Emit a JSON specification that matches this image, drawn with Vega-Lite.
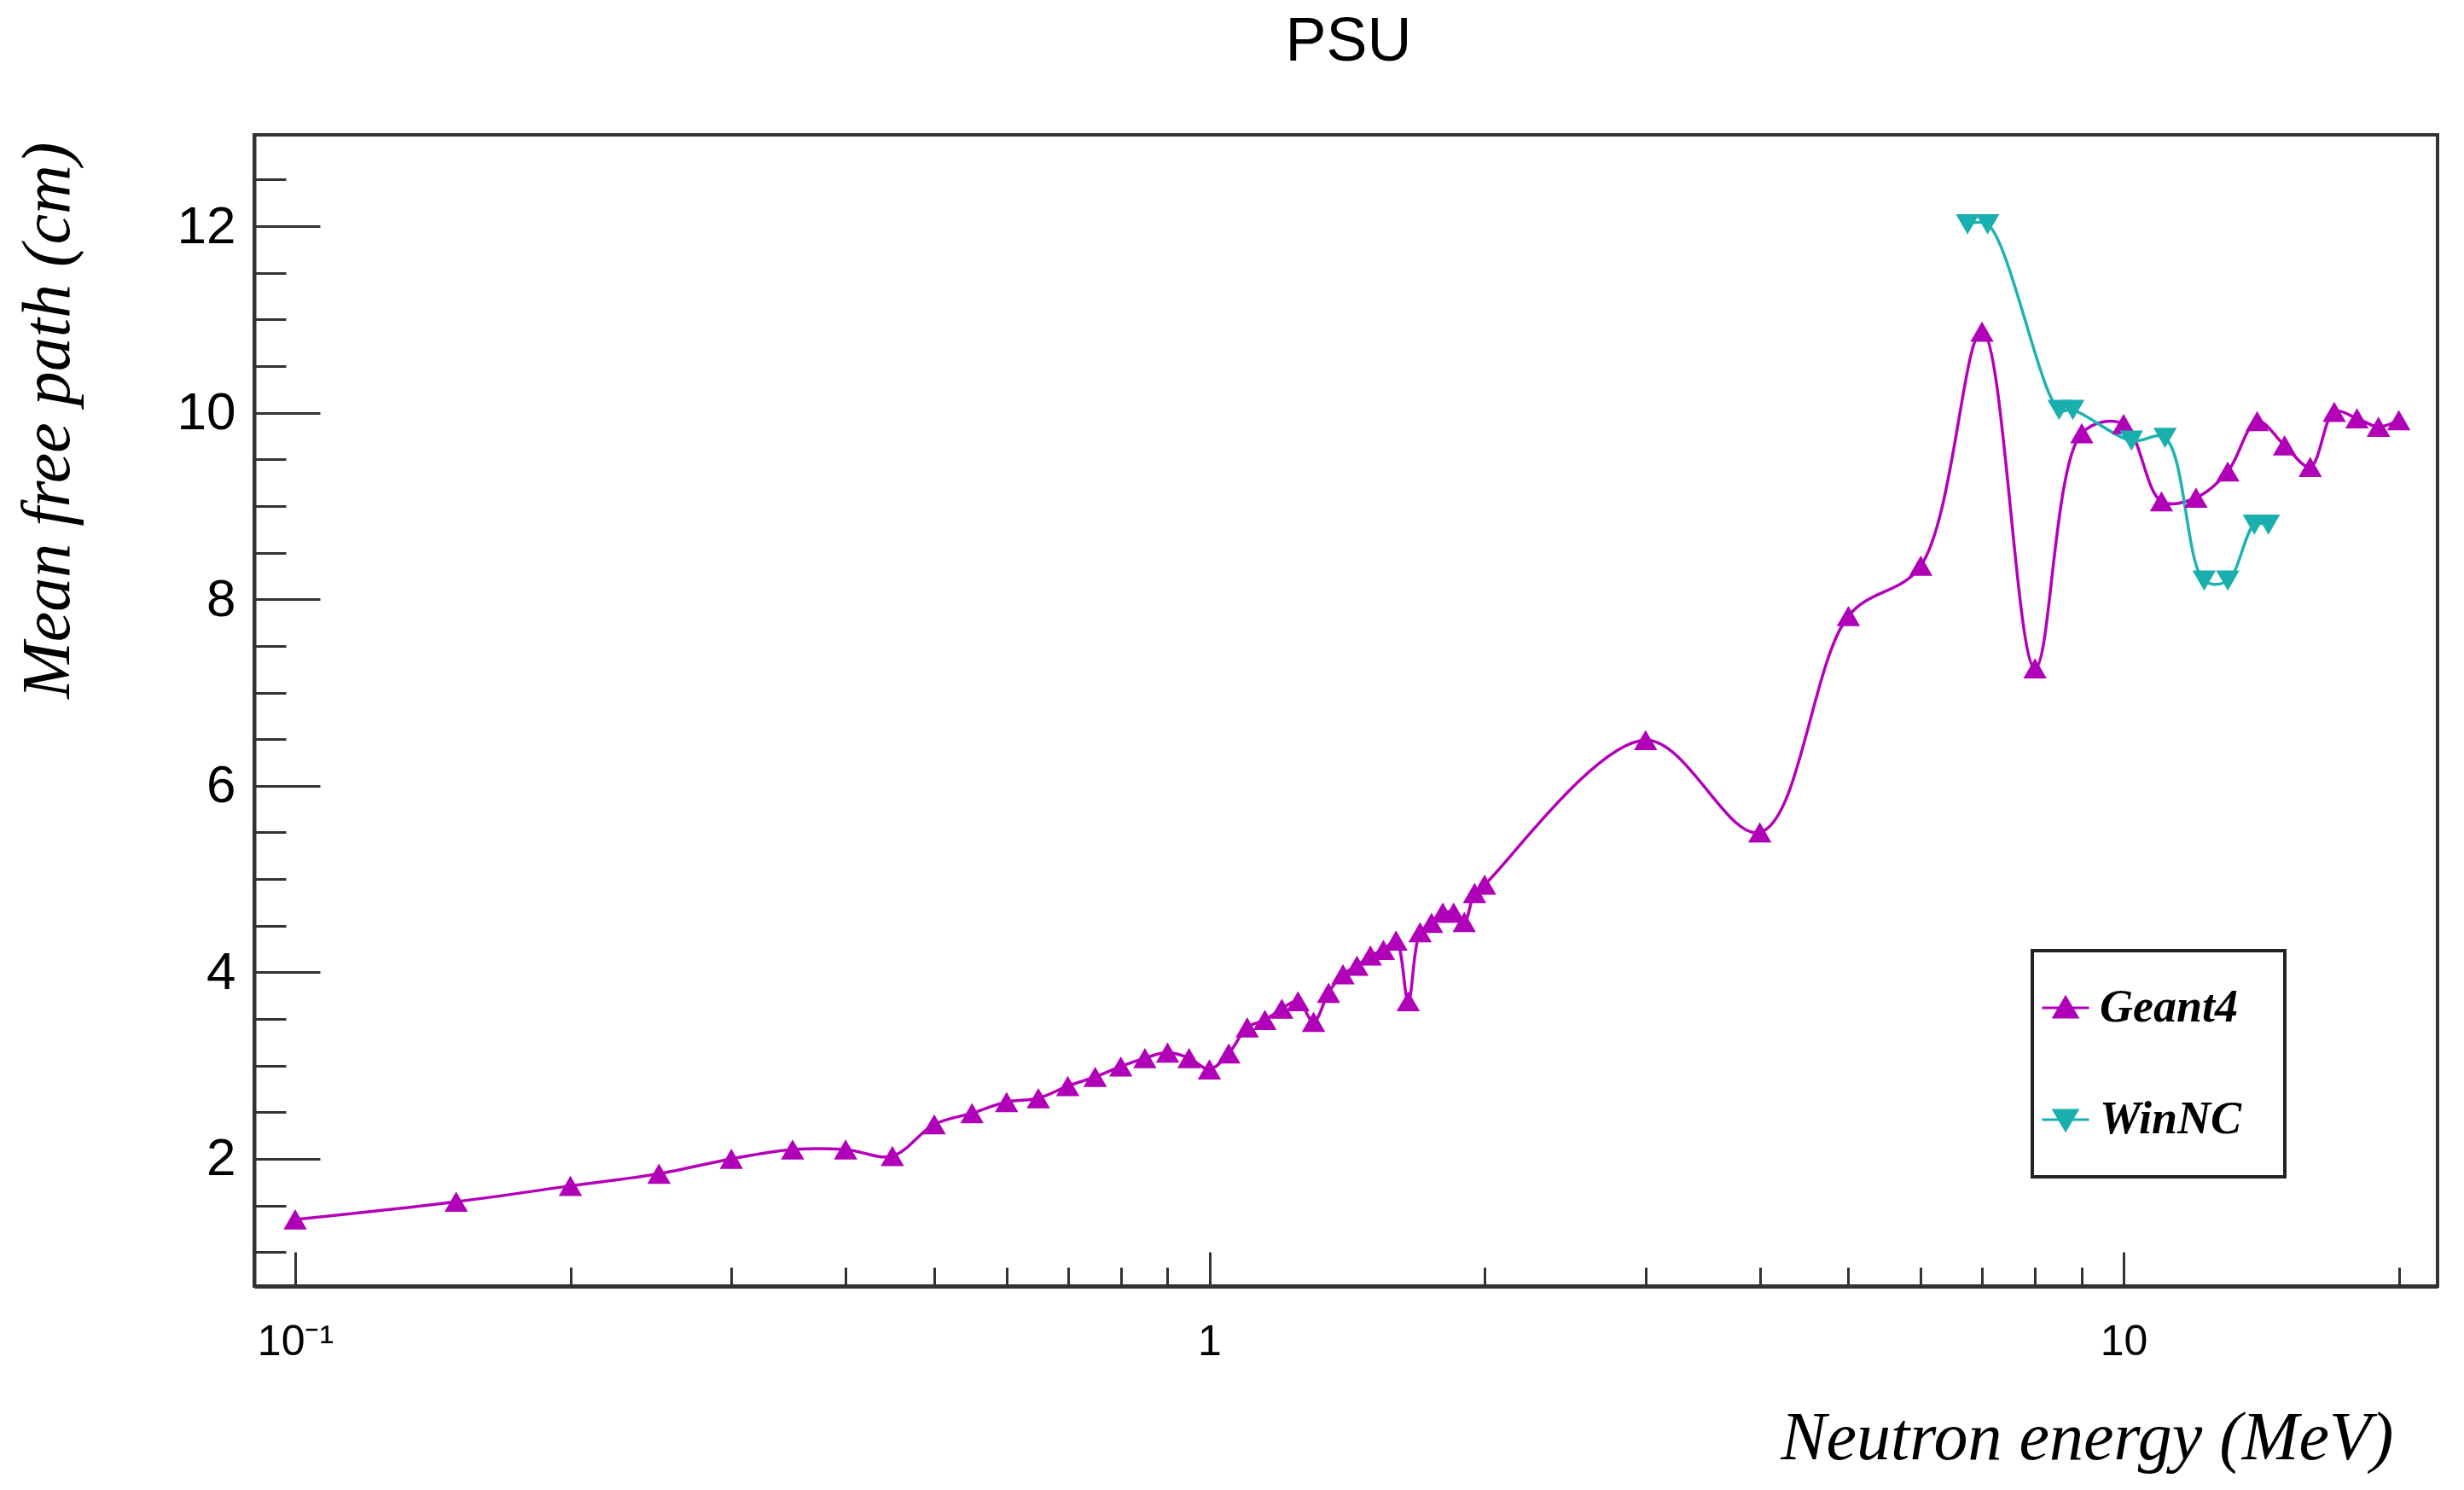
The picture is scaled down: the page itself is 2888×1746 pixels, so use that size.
{
  "$schema": "https://vega.github.io/schema/vega-lite/v6.json",
  "width": 2559,
  "height": 1349,
  "autosize": "none",
  "padding": {"left": 298, "top": 158, "right": 31, "bottom": 239},
  "background": "white",
  "config": {
    "view": {"stroke": "#333333", "strokeWidth": 4},
    "axis": {"grid": false},
    "legend": {
      "orient": "none", "legendX": 2084, "legendY": 956, "direction": "vertical",
      "strokeColor": "#222222", "strokeWidth": 4, "fillColor": "white", "padding": 10, "rowPadding": 17,
      "clipHeight": 114, "labelLimit": 0,
      "symbolSize": 3025, "symbolStrokeWidth": 3, "symbolOpacity": 1,
      "labelFont": "Liberation Serif", "labelFontSize": 54, "labelFontStyle": "italic", "labelFontWeight": "bold",
      "labelColor": "black", "labelOffset": 11, "labelBaseline": "middle"
    }
  },
  "data": {"values": [
    {"series": "Geant4", "E": 0.1, "mfp": 1.35},
    {"series": "Geant4", "E": 0.15, "mfp": 1.54},
    {"series": "Geant4", "E": 0.2, "mfp": 1.71},
    {"series": "Geant4", "E": 0.25, "mfp": 1.84},
    {"series": "Geant4", "E": 0.3, "mfp": 2.0},
    {"series": "Geant4", "E": 0.35, "mfp": 2.1},
    {"series": "Geant4", "E": 0.4, "mfp": 2.1},
    {"series": "Geant4", "E": 0.45, "mfp": 2.03},
    {"series": "Geant4", "E": 0.5, "mfp": 2.37},
    {"series": "Geant4", "E": 0.55, "mfp": 2.49},
    {"series": "Geant4", "E": 0.6, "mfp": 2.61},
    {"series": "Geant4", "E": 0.65, "mfp": 2.65},
    {"series": "Geant4", "E": 0.7, "mfp": 2.78},
    {"series": "Geant4", "E": 0.75, "mfp": 2.88},
    {"series": "Geant4", "E": 0.8, "mfp": 2.99},
    {"series": "Geant4", "E": 0.85, "mfp": 3.08},
    {"series": "Geant4", "E": 0.9, "mfp": 3.14},
    {"series": "Geant4", "E": 0.95, "mfp": 3.08},
    {"series": "Geant4", "E": 1.0, "mfp": 2.96},
    {"series": "Geant4", "E": 1.05, "mfp": 3.13},
    {"series": "Geant4", "E": 1.1, "mfp": 3.41},
    {"series": "Geant4", "E": 1.15, "mfp": 3.49},
    {"series": "Geant4", "E": 1.2, "mfp": 3.61},
    {"series": "Geant4", "E": 1.25, "mfp": 3.69},
    {"series": "Geant4", "E": 1.3, "mfp": 3.47},
    {"series": "Geant4", "E": 1.35, "mfp": 3.78},
    {"series": "Geant4", "E": 1.4, "mfp": 3.98},
    {"series": "Geant4", "E": 1.45, "mfp": 4.07},
    {"series": "Geant4", "E": 1.5, "mfp": 4.18},
    {"series": "Geant4", "E": 1.55, "mfp": 4.24},
    {"series": "Geant4", "E": 1.6, "mfp": 4.34},
    {"series": "Geant4", "E": 1.65, "mfp": 3.69},
    {"series": "Geant4", "E": 1.7, "mfp": 4.43},
    {"series": "Geant4", "E": 1.75, "mfp": 4.53},
    {"series": "Geant4", "E": 1.8, "mfp": 4.64},
    {"series": "Geant4", "E": 1.85, "mfp": 4.64},
    {"series": "Geant4", "E": 1.9, "mfp": 4.54},
    {"series": "Geant4", "E": 1.95, "mfp": 4.85},
    {"series": "Geant4", "E": 2.0, "mfp": 4.94},
    {"series": "Geant4", "E": 3.0, "mfp": 6.49},
    {"series": "Geant4", "E": 4.0, "mfp": 5.5},
    {"series": "Geant4", "E": 5.0, "mfp": 7.82},
    {"series": "Geant4", "E": 6.0, "mfp": 8.36},
    {"series": "Geant4", "E": 7.0, "mfp": 10.87},
    {"series": "Geant4", "E": 8.0, "mfp": 7.26},
    {"series": "Geant4", "E": 9.0, "mfp": 9.78},
    {"series": "Geant4", "E": 10.0, "mfp": 9.88},
    {"series": "Geant4", "E": 11.0, "mfp": 9.05},
    {"series": "Geant4", "E": 12.0, "mfp": 9.09},
    {"series": "Geant4", "E": 13.0, "mfp": 9.37},
    {"series": "Geant4", "E": 14.0, "mfp": 9.91},
    {"series": "Geant4", "E": 15.0, "mfp": 9.65},
    {"series": "Geant4", "E": 16.0, "mfp": 9.42},
    {"series": "Geant4", "E": 17.0, "mfp": 10.01},
    {"series": "Geant4", "E": 18.0, "mfp": 9.94},
    {"series": "Geant4", "E": 19.0, "mfp": 9.85},
    {"series": "Geant4", "E": 20.0, "mfp": 9.92},
    {"series": "WinNC", "E": 6.75, "mfp": 12.02},
    {"series": "WinNC", "E": 7.1, "mfp": 12.02},
    {"series": "WinNC", "E": 8.5, "mfp": 10.03},
    {"series": "WinNC", "E": 8.8, "mfp": 10.03},
    {"series": "WinNC", "E": 10.2, "mfp": 9.7},
    {"series": "WinNC", "E": 11.1, "mfp": 9.73},
    {"series": "WinNC", "E": 12.25, "mfp": 8.2},
    {"series": "WinNC", "E": 13.0, "mfp": 8.2},
    {"series": "WinNC", "E": 13.9, "mfp": 8.8},
    {"series": "WinNC", "E": 14.4, "mfp": 8.8}
  ]},
  "layer": [
    {
      "transform": [{"filter": "datum.series === 'Geant4'"}],
      "mark": {"type": "line", "interpolate": "catmull-rom", "color": "#B400B8", "strokeWidth": 3.5},
      "encoding": {
        "x": {"field": "E", "type": "quantitative",
          "scale": {"type": "log", "domain": [0.0902, 22.05], "nice": false},
          "axis": {"orient": "bottom", "values": [0.1, 1, 10],
            "labelExpr": "datum.value < 0.5 ? '10⁻¹' : (datum.value < 5 ? '1' : '10')",
            "tickSize": -40, "tickWidth": 3, "tickColor": "#333333", "labelPadding": 80,
            "labelFont": "Liberation Sans", "labelFontSize": 50, "labelColor": "black",
            "labelFlush": false, "labelOverlap": false,
            "domainColor": "#333333", "domainWidth": 5, "grid": false,
            "title": "Neutron energy (MeV)", "titleFont": "Liberation Serif", "titleFontStyle": "italic",
            "titleFontWeight": "normal", "titleFontSize": 80, "titleColor": "black",
            "titleAlign": "right", "titleBaseline": "alphabetic", "titleX": 2507, "titleY": 202}},
        "y": {"field": "mfp", "type": "quantitative",
          "scale": {"domain": [0.636, 12.98], "nice": false, "zero": false},
          "axis": {"orient": "left", "values": [2, 4, 6, 8, 10, 12],
            "tickSize": -77, "tickWidth": 3, "tickColor": "#333333", "labelPadding": 99,
            "labelFont": "Liberation Sans", "labelFontSize": 62, "labelColor": "black", "labelOverlap": false,
            "domainColor": "#333333", "domainWidth": 4, "grid": false,
            "title": "Mean free path (cm)", "titleFont": "Liberation Serif", "titleFontStyle": "italic",
            "titleFontWeight": "normal", "titleFontSize": 80, "titleColor": "black", "titleAngle": -90,
            "titleAlign": "right", "titleBaseline": "alphabetic", "titleX": -218, "titleY": 8}}
      }
    },
    {
      "transform": [{"filter": "datum.series === 'WinNC'"}],
      "mark": {"type": "line", "interpolate": "catmull-rom", "color": "#1FB2B2", "strokeWidth": 3.5},
      "encoding": {
        "x": {"field": "E", "type": "quantitative",
          "axis": {"orient": "bottom", "values": [0.2, 0.3, 0.4, 0.5, 0.6, 0.7, 0.8, 0.9, 2, 3, 4, 5, 6, 7, 8, 9, 20],
            "labels": false, "domain": false, "tickSize": -22, "tickWidth": 3, "tickColor": "#333333", "title": null, "grid": false}},
        "y": {"field": "mfp", "type": "quantitative",
          "axis": {"orient": "left", "values": [1, 1.5, 2.5, 3, 3.5, 4.5, 5, 5.5, 6.5, 7, 7.5, 8.5, 9, 9.5, 10.5, 11, 11.5, 12.5],
            "labels": false, "domain": false, "tickSize": -37, "tickWidth": 3, "tickColor": "#333333", "title": null, "grid": false}}
      }
    },
    {
      "transform": [{"filter": "datum.series === 'Geant4'"}],
      "mark": {"type": "point", "shape": "triangle-up", "filled": true, "size": 750, "color": "#B000B8", "opacity": 1},
      "encoding": {
        "x": {"field": "E", "type": "quantitative",
          "axis": {"orient": "top", "values": [], "ticks": false, "labels": false, "domain": false, "grid": false,
            "title": "PSU", "titleFont": "Liberation Sans", "titleFontSize": 72, "titleFontWeight": "normal",
            "titleColor": "black", "titleAlign": "center", "titleBaseline": "alphabetic", "titleX": 1282, "titleY": -88}},
        "y": {"field": "mfp", "type": "quantitative", "axis": null}
      }
    },
    {
      "transform": [{"filter": "datum.series === 'WinNC'"}],
      "mark": {"type": "point", "shape": "triangle-down", "filled": true, "size": 750, "color": "#1AAFAF", "opacity": 1},
      "encoding": {
        "x": {"field": "E", "type": "quantitative", "axis": null},
        "y": {"field": "mfp", "type": "quantitative", "axis": null}
      }
    },
    {
      "mark": {"type": "point", "filled": true, "opacity": 0},
      "encoding": {
        "x": {"field": "E", "type": "quantitative", "axis": null},
        "y": {"field": "mfp", "type": "quantitative", "axis": null},
        "fill": {"field": "series", "type": "nominal", "scale": {"domain": ["Geant4", "WinNC"], "range": ["#B000B8", "#1AAFAF"]},
          "legend": {"title": null, "labelExpr": "datum.label + '\u2800'"}},
        "stroke": {"field": "series", "type": "nominal", "scale": {"domain": ["Geant4", "WinNC"], "range": ["#B000B8", "#1AAFAF"]},
          "legend": {"title": null, "labelExpr": "datum.label + '\u2800'"}},
        "shape": {"field": "series", "type": "nominal", "scale": {"domain": ["Geant4", "WinNC"], "range": ["M-1,0H1M0,-0.45L0.5,0.4L-0.5,0.4Z", "M-1,0H1M0,0.45L0.5,-0.4L-0.5,-0.4Z"]},
          "legend": {"title": null, "labelExpr": "datum.label + '\u2800'"}}
      }
    }
  ],
  "resolve": {"axis": {"x": "independent", "y": "independent"}}
}
